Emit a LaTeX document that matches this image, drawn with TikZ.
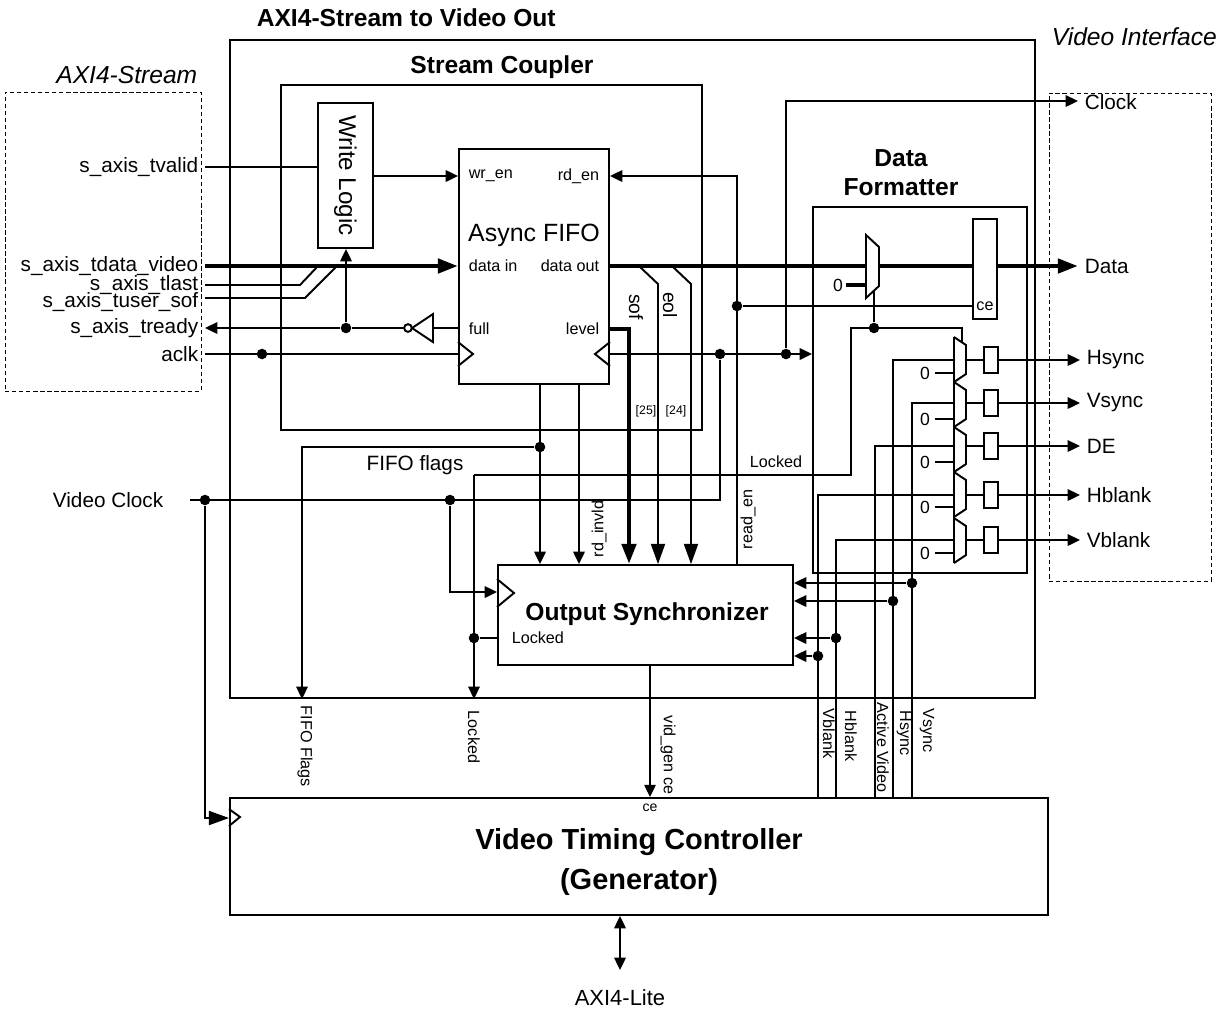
\documentclass[tikz,border=0pt]{standalone}
\usepackage{fontspec}
\setmainfont{Liberation Sans}
\usetikzlibrary{arrows.meta,fit,positioning}

\begin{document}
\begin{tikzpicture}[
    x=0.02cm, y=-0.02cm,
    line width=1.1pt,
    font=\fontsize{11.8}{13}\selectfont,
    blk/.style={draw, line width=1.1pt, inner sep=0pt, fit={#1}},
    dbox/.style={draw, line width=0.5pt, dash pattern=on 2.5pt off 1.5pt, inner sep=0pt, fit={#1}},
    bus/.style={line width=2.6pt},
    arr/.style={-{Triangle[length=7pt,width=6.5pt]}},
    barr/.style={-{Triangle[length=11.5pt,width=8pt]}},
    jdot/.style={circle, fill, inner sep=0pt, minimum size=6pt},
    pin/.style={font=\fontsize{9.2}{10}\selectfont},
    tiny/.style={font=\fontsize{7}{8}\selectfont},
    zero/.style={font=\fontsize{10}{11}\selectfont},
    ttl/.style={font=\fontsize{14}{16.5}\selectfont\bfseries},
    ital/.style={font=\fontsize{14}{16}\selectfont\itshape},
    vlab/.style={pin, rotate=-90, anchor=west, inner sep=0pt},
    ulab/.style={pin, rotate=90, anchor=west, inner sep=0pt}
]
\useasboundingbox (0,0) rectangle (1228,1009);

% frames
\node[blk={(230,40) (1035,698)}] (top) {};
\node[ttl, anchor=west] (ttop) at (250,18) {AXI4-Stream to Video Out};
\node[dbox={(5,92) (201,391)}] (axis) {};
\node[ital, anchor=east] (taxis) at (204,75) {AXI4-Stream};
\node[dbox={(1049,93) (1211,581)}] (vif) {};
\node[ital, anchor=west] (tvif) at (1045,37) {Video Interface};

% stream coupler
\node[blk={(281,85) (702,430)}] (cpl) {};
\node[ttl] (tcpl) at (502,67) {Stream Coupler};
\node[blk={(318,103) (373,248)}] (wlog) {};
\node[rotate=-90, font=\fontsize{13.8}{15}\selectfont] (twlog) at (wlog.center) {Write Logic};
\node[blk={(459,149) (609,384)}] (fifo) {};
\node[font=\fontsize{14.2}{16}\selectfont] (tfifo) at (534,235) {Async FIFO};
\node[pin, anchor=west] (pwr) at (462,176) {wr\_en};
\node[pin, anchor=east] (prd) at (606,176) {rd\_en};
\node[pin, anchor=west] (pdin) at (462,266) {data in};
\node[pin, anchor=east] (pdout) at (606,266) {data out};
\node[pin, anchor=west] (pfull) at (462,329) {full};
\node[pin, anchor=east] (plev) at (606,329) {level};
\draw (fifo.west |- 0,342) -- (473,354) -- (fifo.west |- 0,366);
\draw (fifo.east |- 0,342) -- (595,354) -- (fifo.east |- 0,366);

% data formatter
\node[blk={(813,207) (1027,573)}] (fmt) {};
\node[ttl, align=center] (tfmt) at (901,173) {Data\\Formatter};
\node[blk={(973,219) (997,319)}] (dreg) {};
\node[pin] (tce) at (985,306) {ce};

% output synchronizer and timing controller
\node[blk={(498,565) (793,665)}] (osync) {};
\node[ttl] (tosync) at (647,614) {Output Synchronizer};
\node[pin, anchor=west] (plock) at (505,638) {Locked};
\draw (osync.west |- 0,579) -- (514,593) -- (osync.west |- 0,607);
\node[blk={(230,798) (1048,915)}] (vtc) {};
\node[font=\fontsize{16.5}{22.7}\selectfont\bfseries, align=center] (tvtc) at (639,862) {Video Timing Controller\\(Generator)};
\node[font=\fontsize{8}{9}\selectfont] (tvce) at (650,808) {ce};
\draw (vtc.west |- 0,809) -- (240,817) -- (vtc.west |- 0,826);

% AXI4-Stream side
\node[anchor=east] (ivalid) at (205,167) {s\_axis\_tvalid};
\node[anchor=east] (idata) at (205,266) {s\_axis\_tdata\_video};
\node[anchor=east] (ilast) at (205,285) {s\_axis\_tlast};
\node[anchor=east] (isof) at (205,302) {s\_axis\_tuser\_sof};
\node[anchor=east] (iready) at (205,328) {s\_axis\_tready};
\node[anchor=east] (iclk) at (205,354) {aclk};
\coordinate (mlast) at (318,266);
\coordinate (msof) at (337,266);
\coordinate (inv) at (433,328);
\coordinate (invo) at (404,328);
\node[jdot] (jwr) at (346,328) {};
\node[jdot] (jaclk) at (262,354) {};

\draw (ivalid.east) -- (wlog.west |- ivalid.east);
\draw[arr] (wlog.east |- pwr) -- (fifo.west |- pwr);
\draw[bus, barr] (idata.east) -- (fifo.west |- idata.east);
\draw (ilast.east) -- (300,285) -- (mlast);
\draw (isof.east |- 0,298) -- (305,298) -- (msof);
\draw (fifo.west |- inv) -- (inv) -- (433,314) -- (412,328) -- (433,342) -- (inv);
\draw (408,328) circle[radius=2.2pt];
\draw[arr] (invo) -- (jwr) -- (iready.east);
\draw[arr] (jwr) -- (jwr |- wlog.south);
\draw (iclk.east) -- (fifo.west |- iclk.east);

% read side of the FIFO
\node[jdot] (jce) at (737,306) {};
\draw[arr] (osync.north -| jce) -- (jce |- prd) -- (fifo.east |- prd);
\draw (jce) -- (dreg.west |- jce);
\coordinate (dmux) at (866,266);
\node[anchor=west] (odata) at (1078,266) {Data};
\draw[bus] (fifo.east |- dmux) -- (dmux);
\draw[bus] (879,266) -- (dreg.west |- dmux);
\draw[bus, barr] (dreg.east |- dmux) -- (odata.west);
\draw[barr] (639,266) -- (658,284) -- (osync.north -| 658,0);
\draw[barr] (672,266) -- (691,284) -- (osync.north -| 691,0);
\node[rotate=-90, font=\fontsize{11}{12}\selectfont] (tsof) at (636,307) {sof};
\node[rotate=-90, font=\fontsize{11}{12}\selectfont] (teol) at (670,305) {eol};
\node[tiny] (t25) at (646,411) {[25]};
\node[tiny] (t24) at (676,411) {[24]};
\draw[bus, barr] (fifo.east |- plev) -- (629,329) -- (osync.north -| 629,0);

\node[jdot] (jflag) at (540,447) {};
\draw[arr] (fifo.south -| jflag) -- (osync.north -| jflag);
\draw[arr] (jflag) -- (302,447) -- (top.south -| 302,0);
\node (tflag) at (415,465) {FIFO flags};
\draw[arr] (fifo.south -| 579,0) -- (osync.north -| 579,0);
\node[ulab] (tinv) at (599,558) {rd\_invld};
\node[ulab] (tren) at (748,550) {read\_en};

% clocks
\node[jdot] (jvc2) at (720,354) {};
\node[jdot] (jclk) at (786,354) {};
\draw[arr] (fifo.east |- jvc2) -- (fmt.west |- jvc2);
\node[anchor=west] (oclk) at (1078,102) {Clock};
\draw[arr] (jclk) -- (jclk |- 0,101) -- (oclk.west |- 0,101);
\node[anchor=east] (ivclk) at (170,500) {Video Clock};
\coordinate (vcin) at (190,500);
\node[jdot] (jvc1) at (205,500) {};
\node[jdot] (jvc3) at (450,500) {};
\draw (vcin) -- (jvc2 |- vcin) -- (jvc2);
\draw[barr] (jvc1) -- (jvc1 |- 0,818) -- (vtc.west |- 0,818);
\draw[arr] (jvc3) -- (jvc3 |- 0,592) -- (osync.west |- 0,592);

% locked
\node[jdot] (jlock) at (474,638) {};
\coordinate (lk) at (474,475);
\coordinate (msel) at (962,342);
\node[jdot] (jsel) at (874,328) {};
\draw (osync.west |- jlock) -- (jlock);
\draw[arr] (lk) -- (top.south -| lk);
\draw (lk) -- (851,475) -- (851,328) -- (msel |- jsel) -- (msel);
\draw (874,291) -- (jsel);
\node[pin] (tlock) at (776,462) {Locked};

% data mux
\draw[fill=white] (866,235) -- (879,247) -- (879,286) -- (866,298) -- cycle;
\draw[bus] (846,285) -- (866,285);
\node[zero] (z0) at (838,285) {0};

% output muxes
\draw (954,337) -- (954,563);
\foreach \ty/\oy/\zy/\sg in {337/360/373/Hsync, 382/403/419/Vsync, 427/446/462/DE, 472/495/507/Hblank, 518/540/553/Vblank}{
  \draw (954,\ty) -- (966,\ty+8) -- (966,\ty+37) -- (954,\ty+45);
  \draw (935,\zy) -- (954,\zy);
  \node[zero] (z\sg) at (925,\zy) {0};
  \node[blk={(984,\oy-13) (998,\oy+13)}] (reg\sg) {};
  \node[anchor=west] (o\sg) at (1080,\oy) {\sg};
  \draw (966,\oy) -- (reg\sg.west);
  \draw[arr] (reg\sg.east) -- (o\sg.west);
}

% timing signals
\node[jdot] (jvs) at (912,583) {};
\node[jdot] (jhs) at (893,601) {};
\node[jdot] (jhb) at (836,638) {};
\node[jdot] (jvb) at (818,656) {};
\draw (vtc.north -| jvs) -- (jvs |- 0,403) -- (954,403);
\draw (vtc.north -| jhs) -- (jhs |- 0,360) -- (954,360);
\draw (vtc.north -| 875,0) -- (875,446) -- (954,446);
\draw (vtc.north -| jvb) -- (jvb |- 0,495) -- (954,495);
\draw (vtc.north -| jhb) -- (jhb |- 0,540) -- (954,540);
\draw[arr] (jvs) -- (osync.east |- jvs);
\draw[arr] (jhs) -- (osync.east |- jhs);
\draw[arr] (jhb) -- (osync.east |- jhb);
\draw[arr] (jvb) -- (osync.east |- jvb);
\node[vlab] (tvb) at (829,708) {Vblank};
\node[vlab] (thb) at (851,710) {Hblank};
\node[vlab] (tav) at (883,702) {Active Video};
\node[vlab] (ths) at (904,710) {Hsync};
\node[vlab] (tvs) at (927,708) {Vsync};
\node[vlab] (tff) at (305,705) {FIFO Flags};
\node[vlab] (tlk) at (474,710) {Locked};
\node[vlab] (tvg) at (668,715) {vid\_gen ce};
\draw[arr] (osync.south -| 650,0) -- (vtc.north -| 650,0);

% AXI4-Lite
\node[font=\fontsize{12.5}{14}\selectfont] (axil) at (620,998) {AXI4-Lite};
\coordinate (axb) at (620,970);
\draw[{Triangle[length=7pt,width=6.5pt]}-{Triangle[length=7pt,width=6.5pt]}] (vtc.south -| axb) -- (axb);
\end{tikzpicture}
\end{document}
